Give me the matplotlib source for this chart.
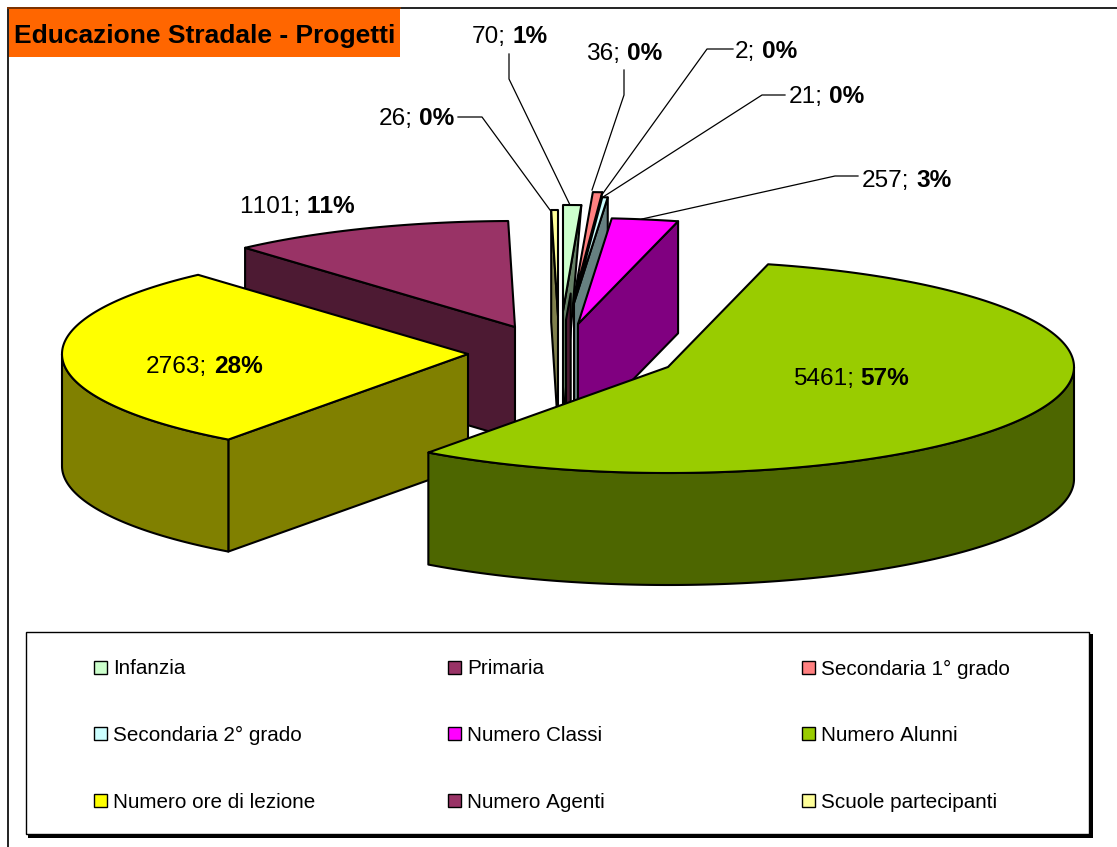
import numpy as np
import matplotlib
matplotlib.use('Agg')
import matplotlib.pyplot as plt
from matplotlib.patches import Polygon, Rectangle

plt.rcParams['font.family'] = ['Liberation Sans', 'DejaVu Sans']
plt.rcParams['text.kerning_factor'] = 8  # original has no kerning

# clockwise from 12 o'clock
categories = ['Infanzia', 'Primaria', 'Secondaria 1° grado',
              'Secondaria 2° grado', 'Numero Classi', 'Numero Alunni',
              'Numero ore di lezione', 'Numero Agenti', 'Scuole partecipanti']
values = [70, 2, 36, 21, 257, 5461, 2763, 1101, 26]
percents = ['1%', '0%', '0%', '0%', '3%', '57%', '28%', '11%', '0%']
colors = ['#CCFFCC', '#993366', '#FF8080', '#CCFFFF', '#FF00FF',
          '#99CC00', '#FFFF00', '#993366', '#FFFF99']

# explosion of each slice from the pie centre, in pixels
explode_x = [-10, -7, 1, 1, 5, 95, -105, -58, -15]
explode_y = [-42, -33, -55, -50, -29, 14, 1, -26, -37]

CENTRE = (573, 353)
RX, RY = 406, 106
DEPTH = 112
# back to front
draw_order = [7, 8, 0, 1, 2, 3, 4, 6, 5]

# the thin slices at the back have clipped side faces in the original:
# (depth at the rim, depth at the apex, how far the face reaches to the rim)
end_faces = {0: (0, DEPTH, 1), 1: (DEPTH, DEPTH, 0.25), 2: (0, 15, 1)}

label_pos = [(472, 43), (735, 58), (586, 60), (789, 103), (862, 187),
             (793, 385), (146, 373), (239, 213), (379, 125)]
leaders = {
    0: [(509, 54), (509, 79), (570, 205)],
    1: [(733, 49), (707, 49), (601, 196)],
    2: [(624, 70), (624, 95), (592, 190)],
    3: [(785, 95), (762, 95), (603, 197)],
    4: [(858, 176), (835, 176), (642, 219)],
    8: [(458, 117), (482, 117), (550, 210)],
}


def darker(col):
    return tuple(c / 2 for c in matplotlib.colors.to_rgb(col))


def rim(cx, cy, t1, t2):
    t = np.radians(np.linspace(t1, t2, max(int(abs(t2 - t1) * 2), 2)))
    return np.column_stack([cx + RX * np.sin(t), cy - RY * np.cos(t)])


def extrude(pts):
    pts = np.asarray(pts)
    return np.vstack([pts, (pts + [0, DEPTH])[::-1]])


def add_poly(ax, pts, col):
    ax.add_patch(Polygon(pts, closed=True, facecolor=col, edgecolor='black',
                         linewidth=1.5, joinstyle='round'))


def draw_slice(ax, i, t1, t2):
    cx = CENTRE[0] + explode_x[i]
    cy = CENTRE[1] + explode_y[i]
    side = darker(colors[i])
    apex = np.array([cx, cy])
    # cut faces
    if np.sin(np.radians(t1)) < 0:
        add_poly(ax, extrude([apex, rim(cx, cy, t1, t1 + 1)[0]]), side)
    if np.sin(np.radians(t2)) > 0:
        rim_depth, apex_depth, reach = end_faces.get(i, (DEPTH, DEPTH, 1))
        end = apex + (rim(cx, cy, t2 - 1, t2)[-1] - apex) * reach
        add_poly(ax, [apex, end, end + [0, rim_depth],
                      apex + [0, apex_depth]], side)
    # outer wall, front half only
    a, b = max(t1, 90), min(t2, 270)
    if b > a:
        add_poly(ax, extrude(rim(cx, cy, a, b)), side)
    if i not in end_faces or end_faces[i][2] == 1:
        add_poly(ax, np.vstack([apex, rim(cx, cy, t1, t2)]), colors[i])


def mixed_label(ax, x, y, plain, bold, size=17.6):
    t = ax.text(x, y, plain, fontsize=size, va='baseline', ha='left')
    w = t.get_window_extent(ax.figure.canvas.get_renderer()).width
    ax.text(x + w + 6.5, y, bold, fontsize=size, fontweight='bold',
            va='baseline', ha='left')


def main():
    fig = plt.figure(figsize=(11.17, 8.47), dpi=100)
    ax = fig.add_axes([0, 0, 1, 1])
    ax.set_xlim(0, 1117)
    ax.set_ylim(847, 0)
    ax.axis('off')

    # chart frame and title
    ax.plot([8, 8, 1117], [847, 8.5, 8.5], color='#222222', lw=1.4)
    ax.add_patch(Rectangle((8, 9), 392, 48, facecolor='#FF6600', edgecolor='none'))
    ax.plot([8, 400], [8.5, 8.5], color='#7F3300', lw=1.4)
    ax.text(14, 36, 'Educazione Stradale - Progetti', fontsize=19,
            fontweight='bold', va='center', ha='left')

    # pie
    angles = np.concatenate([[0], np.cumsum(values)]) / np.sum(values) * 360
    for i in draw_order:
        draw_slice(ax, i, angles[i], angles[i + 1])

    for i, pts in leaders.items():
        xs, ys = zip(*pts)
        ax.plot(xs, ys, color='black', lw=0.9)

    for i, (x, y) in enumerate(label_pos):
        mixed_label(ax, x, y, '%d;' % values[i], percents[i])

    # legend box with shadow
    ax.add_patch(Rectangle((28, 634), 1065, 204, facecolor='black', edgecolor='none'))
    ax.add_patch(Rectangle((26, 632), 1063, 202, facecolor='white',
                           edgecolor='black', linewidth=1.0))
    for i, name in enumerate(categories):
        row, col = divmod(i, 3)
        x = 94 + 354 * col
        y = 667.5 + 66.5 * row
        ax.add_patch(Rectangle((x, y - 6.5), 13, 13, facecolor=colors[i],
                               edgecolor='black', linewidth=1.0))
        ax.text(x + 19, y + 1.5, name, fontsize=14.9, va='center', ha='left')

    fig.savefig('out.png', dpi=100)


if __name__ == "__main__":
    main()
